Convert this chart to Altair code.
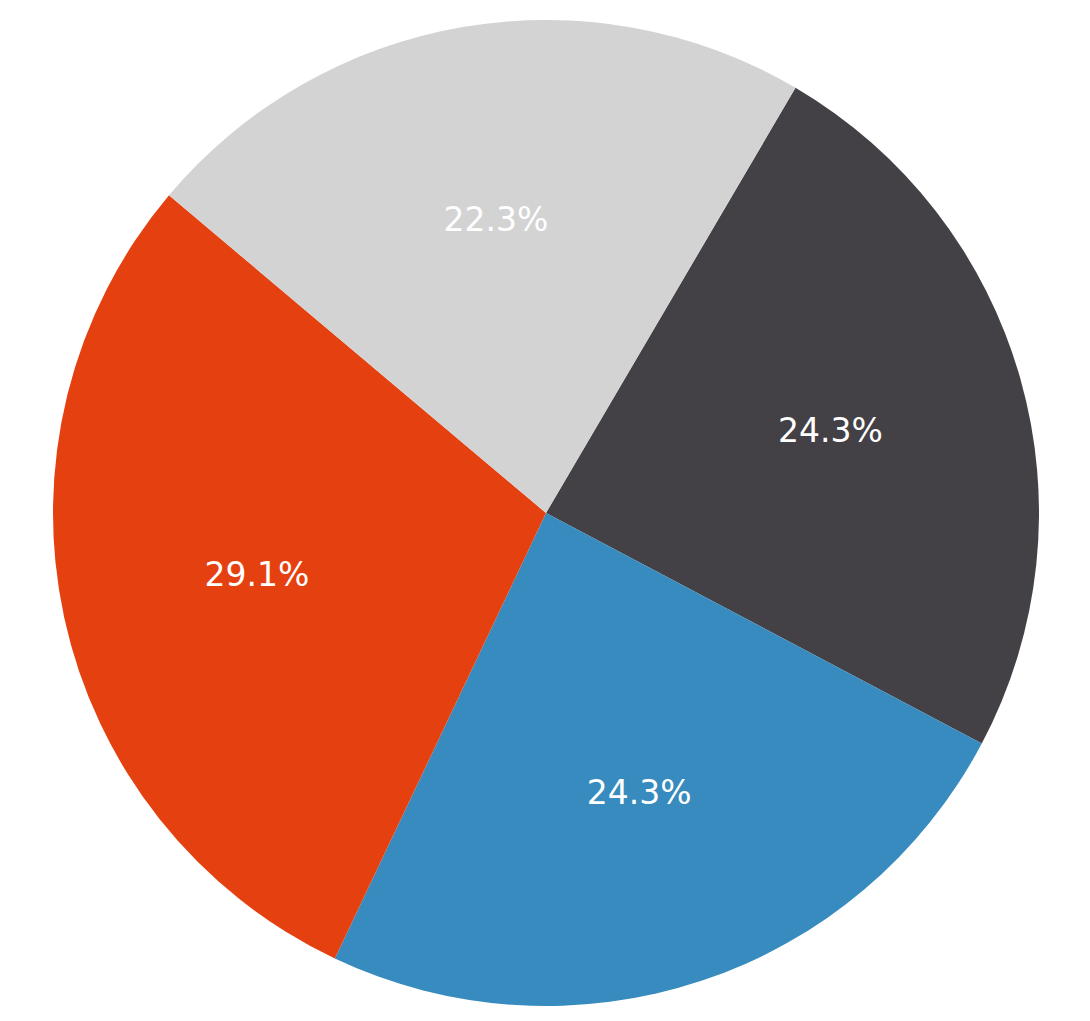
import math
import altair as alt
import pandas as pd

labels = ["D", "C", "B", "A"]
values = [24.3, 24.3, 29.1, 22.3]
colors = ["#434145", "#378BBE", "#E5400F", "#D3D3D3"]
pct_text = ["24.3%", "24.3%", "29.1%", "22.3%"]

df = pd.DataFrame({"label": labels, "value": values, "pct": pct_text, "order": list(range(len(labels)))})

start = math.radians(30.4)
R = 493

base = alt.Chart(df).encode(
    theta=alt.Theta("value:Q", stack=True, scale=alt.Scale(range=[start, start + 2 * math.pi])),
    order=alt.Order("order:Q"),
)

arcs = base.mark_arc(outerRadius=R, stroke=None).encode(
    color=alt.Color("label:N", scale=alt.Scale(domain=labels, range=colors), legend=None),
    x=alt.value(538),
    y=alt.value(505),
)

text = base.mark_text(radius=R * 0.6, fontSize=33, font="DejaVu Sans", color="white").encode(
    text="pct:N",
    x=alt.value(538),
    y=alt.value(505),
)

chart = (arcs + text).properties(width=1074, height=1005, padding=0).configure_view(stroke=None)

chart.save("out.html", embed_options={"renderer": "svg", "actions": False})
